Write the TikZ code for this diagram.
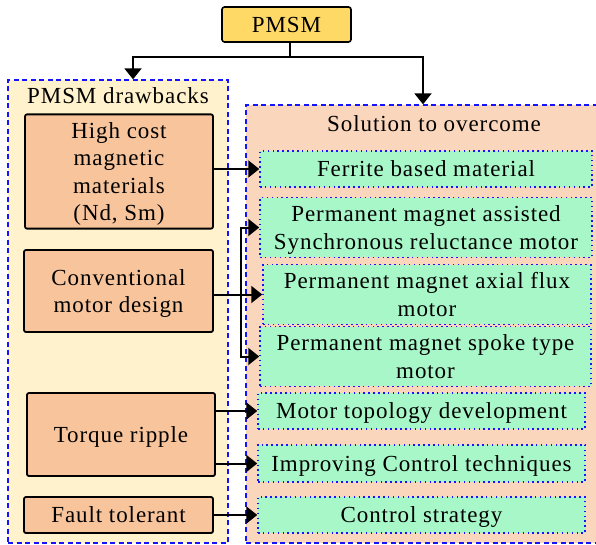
\documentclass[tikz,border=0pt]{standalone}
\usepackage{fontspec}
\setmainfont{Liberation Serif}[LetterSpace=4]
\usetikzlibrary{arrows.meta}
\definecolor{pmsmyellow}{RGB}{255,217,102}
\definecolor{drawbackbg}{RGB}{255,242,204}
\definecolor{solutionbg}{RGB}{250,215,188}
\definecolor{issueorange}{RGB}{247,196,156}
\definecolor{remedygreen}{RGB}{168,247,200}
\definecolor{dashblue}{RGB}{20,20,255}
% centred block of lines, with a little extra head room so the lines sit optically centred
\newcommand{\boxtext}[1]{\raisebox{0pt}[\dimexpr\height+5pt\relax][\depth]{\begin{tabular}{@{}c@{}}#1\end{tabular}}}
\begin{document}
\begin{tikzpicture}[x=1pt,y=-1pt,
  txt/.style={font=\fontsize{23}{27.3}\selectfont},
  box/.style={txt, draw, inner sep=0pt, anchor=center},
  container/.style={draw=dashblue, line width=1.3pt, dash pattern=on 5pt off 3.5pt, inner sep=0pt},
  issue/.style={box, fill=issueorange, line width=1.8pt, rounded corners=2pt},
  remedy/.style={box, fill=remedygreen, draw=dashblue, line width=1.5pt, dash pattern=on 1.5pt off 3.4pt},
  arr/.style={-{Triangle[length=11pt,width=17pt]}, line width=2pt},
]
\useasboundingbox (0,0) rectangle (596,545);

% containers
\node[container, fill=drawbackbg, minimum width=220, minimum height=463] (leftc) at (118,311.5) {};
\node[container, fill=solutionbg, minimum width=352, minimum height=438] (rightc) at (422,324) {};
\node[txt] (ltitle) at (118,96) {PMSM drawbacks};
\node[txt] (rtitle) at (434,124) {Solution to overcome};

% top node
\node[box, fill=pmsmyellow, line width=1.6pt, rounded corners=2.5pt,
      minimum width=129, minimum height=35] (pmsm) at (286.5,24.5) {\boxtext{PMSM}};

% drawbacks
\node[issue, minimum width=188, minimum height=113] (hc) at (119,171.5)
  {\boxtext{High cost\\magnetic\\materials\\(Nd, Sm)}};
\node[issue, minimum width=189, minimum height=82] (conv) at (118.5,291)
  {\boxtext{Conventional\\motor design}};
\node[issue, minimum width=188, minimum height=83] (tq) at (121,434.5)
  {\boxtext{Torque ripple}};
\node[issue, minimum width=189, minimum height=36] (ft) at (118.5,515)
  {\boxtext{Fault tolerant}};

% solutions
\node[remedy, minimum width=332, minimum height=36] (fer) at (426,169)
  {\boxtext{Ferrite based material}};
\node[remedy, minimum width=332, minimum height=57] (pma) at (426,227.5)
  {\boxtext{Permanent magnet assisted\\Synchronous reluctance motor}};
\node[remedy, minimum width=328, minimum height=45] (ax) at (427,294.5)
  {\boxtext{Permanent magnet axial flux\\motor}};
\node[remedy, minimum width=331, minimum height=57] (spk) at (425.5,356.5)
  {\boxtext{Permanent magnet spoke type\\motor}};
\node[remedy, minimum width=327, minimum height=36] (topo) at (421.5,411)
  {\boxtext{Motor topology development}};
\node[remedy, minimum width=327, minimum height=37] (imp) at (421.5,463.5)
  {\boxtext{Improving Control techniques}};
\node[remedy, minimum width=327, minimum height=36] (cs) at (421.5,515)
  {\boxtext{Control strategy}};

% connectors
\coordinate (fork) at (290,57);
\coordinate (bus) at (241,0);
\draw[line width=2pt] (pmsm.south -| fork) -- (fork);
\draw[arr] (fork) -| ([xshift=15pt]leftc.north);
\draw[arr] (fork) -| ([xshift=1pt]rightc.north);

\draw[arr] (hc.east |- fer.west) -- (fer.west);
\draw[arr] (conv.east |- ax.west) -- (ax.west);
\draw[arr] (bus |- ax.west) |- (pma.west);
\draw[arr] (bus |- ax.west) |- (spk.west);
\draw[arr] (tq.east |- topo.west) -- (topo.west);
\draw[arr] (tq.east |- imp.west) -- (imp.west);
\draw[arr] (ft.east |- cs.west) -- (cs.west);
\end{tikzpicture}
\end{document}
